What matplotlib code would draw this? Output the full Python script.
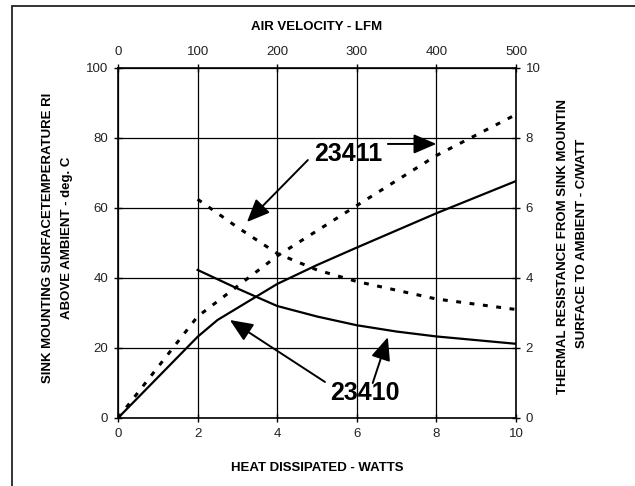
import matplotlib
matplotlib.use("Agg")
import matplotlib.pyplot as plt
from matplotlib.patches import Rectangle

plt.rcParams['font.family'] = ['Liberation Sans', 'DejaVu Sans']

# temperature rise vs heat dissipated (left / bottom axes)
watts_23410 = [0, 2, 2.5, 4, 5, 6, 8, 10]
temp_23410 = [0, 23.2, 28, 38.3, 43.7, 48.7, 58.5, 67.7]
watts_23411 = [0, 2, 4, 6, 8, 10]
temp_23411 = [0, 29, 46.3, 60.7, 75, 86.7]

# thermal resistance vs air velocity (right / top axes)
lfm_23410 = [100, 150, 200, 250, 300, 350, 400, 500]
res_23410 = [4.23, 3.7, 3.2, 2.9, 2.65, 2.47, 2.33, 2.12]
lfm_23411 = [100, 150, 200, 250, 300, 350, 400, 450, 500]
res_23411 = [6.25, 5.45, 4.7, 4.23, 3.9, 3.65, 3.4, 3.25, 3.1]

x_ticks = [0, 2, 4, 6, 8, 10]
y_ticks = [0, 20, 40, 60, 80, 100]
top_ticks = [0, 100, 200, 300, 400, 500]
right_ticks = [0, 2, 4, 6, 8, 10]

W, H = 635, 486
fig = plt.figure(figsize=(W / 100, H / 100), dpi=100)
fig.patches.append(Rectangle((12 / W, -0.1), 1.1, 1.1 - 6 / H,
                             transform=fig.transFigure, fill=False,
                             edgecolor='#222222', lw=1.3))

pos = [118 / W, 1 - 418 / H, 398 / W, 350 / H]
ax = fig.add_axes(pos)
ax2 = fig.add_axes(pos, frameon=False)

dot = (0, (1.6, 2.8))
ax.plot(watts_23410, temp_23410, color='black', lw=1.6)
ax.plot(watts_23411, temp_23411, color='black', lw=2.2, linestyle=dot)
ax2.plot(lfm_23410, res_23410, color='black', lw=1.6)
ax2.plot(lfm_23411, res_23411, color='black', lw=2.2, linestyle=dot)

ax.set_xlim(0, 10)
ax.set_ylim(0, 100)
ax.set_xticks(x_ticks)
ax.set_yticks(y_ticks)
ax.grid(True, color='black', lw=0.9)
for s in ax.spines.values():
    s.set_linewidth(1.2)
ax.tick_params(direction='inout', length=6, width=1, labelsize=9.5,
               labelcolor='#222222', pad=4)

ax2.set_xlim(0, 500)
ax2.set_ylim(0, 10)
ax2.set_xticks(top_ticks)
ax2.set_yticks(right_ticks)
ax2.xaxis.tick_top()
ax2.yaxis.tick_right()
ax2.tick_params(direction='inout', length=6, width=1, labelsize=9.5,
                labelcolor='#222222', pad=4)
ax2.patch.set_visible(False)

# axis titles placed in pixel positions of the original
lab = dict(fontsize=9.5, fontweight='bold', ha='center', va='center')
fig.text(317 / W, 1 - 468 / H, 'HEAT DISSIPATED - WATTS', **lab)
fig.text(317 / W, 1 - 27 / H, 'AIR VELOCITY - LFM', **lab)
fig.text(48 / W, 1 - 238 / H, 'SINK MOUNTING SURFACETEMPERATURE RI', rotation=90, **lab)
fig.text(67 / W, 1 - 238 / H, 'ABOVE AMBIENT - deg. C', rotation=90, **lab)
fig.text(563 / W, 1 - 246 / H, 'THERMAL RESISTANCE FROM SINK MOUNTIN', rotation=90, **lab)
fig.text(582 / W, 1 - 243 / H, 'SURFACE TO AMBIENT - C/WATT', rotation=90, **lab)

arrow = dict(arrowstyle='-|>,head_length=1.4,head_width=0.6', color='black',
             lw=1.4, mutation_scale=10, shrinkA=0, shrinkB=0)

ax.text(5.78, 75.4, '23411', fontsize=18, fontweight='bold', ha='center', va='center')
ax.annotate('', xy=(3.24, 56), xytext=(4.77, 73.7), arrowprops=arrow)
ax.annotate('', xy=(8.0, 78.3), xytext=(6.78, 78.3), arrowprops=arrow)

ax.text(6.2, 7.1, '23410', fontsize=18, fontweight='bold', ha='center', va='center')
ax.annotate('', xy=(2.81, 28), xytext=(5.2, 10.3), arrowprops=arrow)
ax.annotate('', xy=(6.78, 23.1), xytext=(6.4, 10), arrowprops=arrow)

fig.savefig('out.png', dpi=100)
